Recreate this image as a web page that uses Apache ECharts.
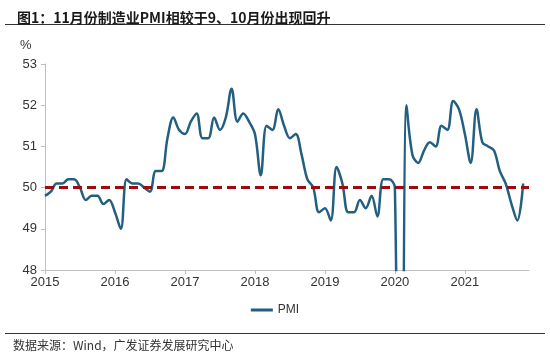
<!DOCTYPE html>
<html><head><meta charset="utf-8">
<script src="https://cdn.jsdelivr.net/npm/echarts@6/dist/echarts.min.js"></script>
<style>html,body{margin:0;padding:0;background:#fff}#c{width:550px;height:356px}</style>
</head><body><div id="c"></div>
<script>
const years = ['2015','2016','2017','2018','2019','2020','2021'];
const monthNames = ['01','02','03','04','05','06','07','08','09','10','11','12'];
const pmi2015 = [49.8,49.9,50.1,50.1,50.2,50.2,50.0,49.7,49.8,49.8,49.6,49.7];
const pmi2016 = [49.4,49.0,50.2,50.1,50.1,50.0,49.9,50.4,50.4,51.2,51.7,51.4];
const pmi2017 = [51.3,51.6,51.8,51.2,51.2,51.7,51.4,51.7,52.4,51.6,51.8,51.6];
const pmi2018 = [51.3,50.3,51.5,51.4,51.9,51.5,51.2,51.3,50.8,50.2,50.0,49.4];
const pmi2019 = [49.5,49.2,50.5,50.1,49.4,49.4,49.7,49.5,49.8,49.3,50.2,50.2];
const pmi2020 = [50.0,35.7,52.0,50.8,50.6,50.9,51.1,51.0,51.5,51.4,52.1,51.9];
const pmi2021 = [51.3,50.6,51.9,51.1,51.0,50.9,50.4,50.1,49.6,49.2,50.1,null];
const yTicks = [48,49,50,51,52,53];
const baseline = 50;

const categories = [];
years.forEach(y => monthNames.forEach(m => categories.push(y + '-' + m)));
const pmi = [].concat(pmi2015,pmi2016,pmi2017,pmi2018,pmi2019,pmi2020,pmi2021);

const chart = echarts.init(document.getElementById('c'), null, {renderer:'canvas'});
const font = '"Liberation Sans", Arial, sans-serif';
chart.setOption({
  animation:false,
  backgroundColor:'#fff',
  title:{
    text:'图1：11月份制造业PMI相较于9、10月份出现回升',
    left:12, top:6,
    textStyle:{fontFamily:'"Noto Sans CJK SC", sans-serif', fontSize:14, fontWeight:'bold', color:'#1a1a1a'}
  },
  graphic:[
    {type:'line', shape:{x1:5,y1:24.5,x2:545,y2:24.5}, style:{stroke:'#333',lineWidth:1}},
    {type:'line', shape:{x1:5,y1:333.5,x2:545,y2:333.5}, style:{stroke:'#333',lineWidth:1}},
    {type:'text', left:13, top:339, style:{text:'数据来源：Wind，广发证券发展研究中心', fill:'#333', font:'12px "Noto Sans CJK SC", sans-serif'}},
    {type:'text', left:20, top:39, style:{text:'%', fill:'#333', font:'13px '+font}}
  ],
  legend:{
    data:['PMI'], left:'center', top:299,
    itemWidth:22, itemHeight:3, icon:'rect',
    textStyle:{fontFamily:font, fontSize:12, color:'#333'}
  },
  grid:{left:45, right:21, top:64, bottom:86},
  xAxis:{
    type:'category', data:categories, boundaryGap:false,
    axisLine:{lineStyle:{color:'#bfbfbf'}},
    axisTick:{show:true, interval:(i)=>i%12===0, length:4, lineStyle:{color:'#bfbfbf'}},
    axisLabel:{interval:(i)=>i%12===0, formatter:(v)=>v.slice(0,4), fontFamily:font, fontSize:13, color:'#333', margin:6},
    splitLine:{show:false}
  },
  yAxis:{
    type:'value', min:yTicks[0], max:yTicks[yTicks.length-1], interval:1,
    axisLine:{show:true, lineStyle:{color:'#bfbfbf'}},
    axisTick:{show:true, length:4, lineStyle:{color:'#bfbfbf'}},
    axisLabel:{fontFamily:font, fontSize:13, color:'#333', margin:8},
    splitLine:{show:false}
  },
  series:[{
    name:'PMI', type:'line', data:pmi, smooth:0.35, symbol:'none', clip:true,
    lineStyle:{color:'#235f80', width:2.5}, itemStyle:{color:'#235f80'},
    markLine:{
      silent:true, symbol:'none', label:{show:false},
      lineStyle:{color:'#9e0b0f', width:3, type:[9,5]},
      data:[{yAxis:baseline}]
    }
  }]
});
</script></body></html>
